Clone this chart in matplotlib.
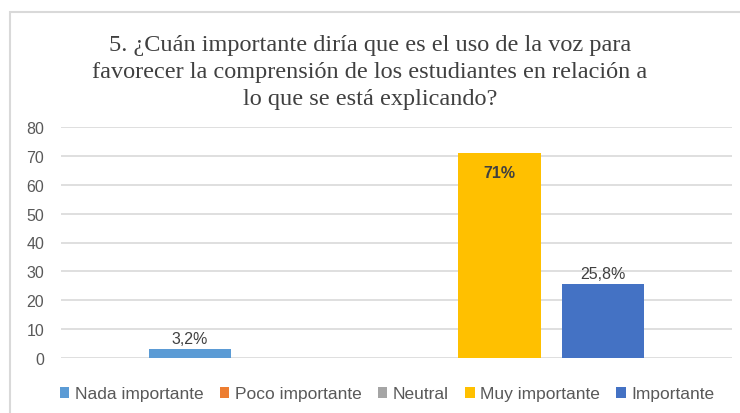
import matplotlib.pyplot as plt
from matplotlib.patches import Rectangle

# --- data ---
series = ["Nada importante", "Poco importante", "Neutral", "Muy importante", "Importante"]
values = [3.2, 0, 0, 71, 25.8]
labels = ["3,2%", "", "", "71%", "25,8%"]
colors = ["#5B9BD5", "#ED7D31", "#A5A5A5", "#FFC000", "#4472C4"]
yticks = [0, 10, 20, 30, 40, 50, 60, 70, 80]

title = ("5. ¿Cuán importante diría que es el uso de la voz para\n"
         "favorecer la comprensión de los estudiantes en relación a\n"
         "lo que se está explicando?")

W, H = 740, 414
fig = plt.figure(figsize=(W / 100, H / 100), dpi=100)
fig.patch.set_facecolor("white")

# chart frame (light gray border top/left only)
fig.add_artist(Rectangle((10 / W, -0.1), 1.2, (H - 13) / H + 0.1,
                         transform=fig.transFigure, fill=False,
                         edgecolor="#D9D9D9", linewidth=1.5))

# plot area: x 61..732, y 128..359 (pixels from top)
ax = fig.add_axes([61 / W, (H - 359) / H, (732 - 61) / W, (359 - 128) / H])
ax.set_facecolor("none")

x = range(len(series))
bars = ax.bar(x, values, width=0.8, color=colors, label=series, zorder=3)

ax.set_xlim(-1.25, 5.25)
ax.set_ylim(0, 80)
ax.set_yticks(yticks)
ax.set_xticks([])
ax.yaxis.grid(True, color="#D9D9D9", linewidth=1.2, zorder=0)
for s in ax.spines.values():
    s.set_visible(False)
ax.tick_params(axis="y", length=0, pad=12, labelsize=11.5, labelcolor="#595959")
for t in ax.get_yticklabels():
    t.set_family("Liberation Sans")

# data labels
for b, v, lab in zip(bars, values, labels):
    if not lab:
        continue
    cx = b.get_x() + b.get_width() / 2
    if v > 60:
        ax.text(cx, v - 4, lab, ha="center", va="top", fontsize=11.5,
                fontweight="bold", color="#404040", family="Liberation Sans")
    else:
        ax.text(cx, v + 0.8, lab, ha="center", va="bottom", fontsize=11.5,
                color="#404040", family="Liberation Sans")

fig.text(0.5, (H - 35) / H, title, ha="center", va="top", fontsize=17.5,
         family="Liberation Serif", color="#404040", linespacing=1.38)

leg = fig.legend(handles=bars, labels=series, loc="center",
                 bbox_to_anchor=(387 / W, (H - 395) / H), ncol=5, frameon=False,
                 handlelength=0.55, handleheight=0.55, handletextpad=0.3,
                 columnspacing=0.95, prop={"family": "Liberation Sans", "size": 12.5})
for t in leg.get_texts():
    t.set_color("#595959")

fig.savefig("out.png", dpi=100, facecolor="white")
